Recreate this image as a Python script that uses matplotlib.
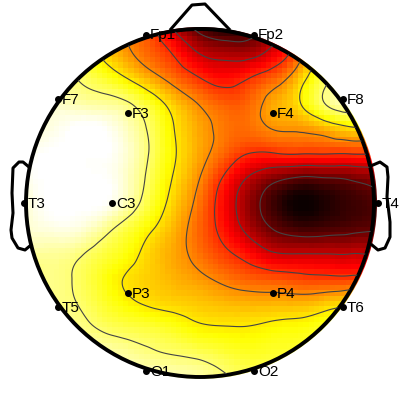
import numpy as np
import matplotlib
matplotlib.use('Agg')
import matplotlib.pyplot as plt
import matplotlib.tri as mtri
from matplotlib.patches import Circle

# electrode names and pixel positions
channels = ['Fp1', 'Fp2', 'F7', 'F3', 'F4', 'F8', 'T3', 'C3', 'T4', 'T5', 'P3', 'P4', 'T6', 'O1', 'O2']
chan_x = [146, 254, 58, 128, 273, 343, 24, 112, 378, 58, 128, 273, 343, 146, 254]
chan_y = [35, 35, 99, 113, 113, 99, 203, 203, 203, 307, 293, 293, 307, 371, 371]

# coarse reading of the potential, 0 = white, 1 = black
grid_x = [25, 50, 75, 100, 125, 150, 175, 200, 225, 250, 275, 300, 325, 350, 375]
grid_y = [28, 53, 78, 103, 128, 153, 178, 203, 228, 253, 278, 303, 328, 353, 378]
values = [
    [.20, .20, .25, .30, .42, .52, .74, .90, .98, .92, .80, .60, .40, .30, .25],
    [.15, .15, .18, .29, .40, .49, .59, .72, .76, .76, .66, .47, .20, .15, .15],
    [.10, .10, .14, .20, .28, .38, .48, .57, .62, .57, .49, .34, .17, .10, .10],
    [.05, .05, .08, .10, .13, .22, .34, .44, .50, .48, .38, .29, .14, .08, .08],
    [.05, .03, .00, .00, .06, .16, .29, .39, .46, .47, .42, .41, .36, .30, .30],
    [.03, .00, .00, .00, .04, .15, .28, .39, .49, .57, .57, .56, .56, .56, .56],
    [.02, .00, .00, .00, .05, .17, .30, .43, .59, .73, .82, .87, .86, .84, .80],
    [.05, .00, .00, .00, .07, .20, .33, .47, .64, .80, .93, 1.0, .97, .93, .90],
    [.05, .03, .03, .09, .18, .27, .37, .49, .62, .76, .87, .92, .91, .89, .87],
    [.10, .10, .12, .18, .24, .32, .39, .47, .55, .63, .71, .72, .72, .72, .72],
    [.15, .12, .15, .22, .29, .33, .37, .41, .46, .50, .52, .54, .55, .55, .55],
    [.12, .12, .14, .20, .26, .30, .32, .34, .36, .37, .37, .37, .34, .30, .28],
    [.10, .10, .11, .15, .18, .20, .23, .27, .28, .28, .26, .25, .22, .20, .20],
    [.08, .08, .08, .08, .10, .13, .15, .17, .20, .22, .21, .20, .16, .12, .12],
    [.05, .05, .05, .05, .05, .05, .06, .08, .13, .16, .15, .12, .08, .08, .08],
]
levels = [.143, .286, .429, .571, .714, .857]

nose_x = [171, 192, 205, 229]
nose_y = [29, 5, 4, 29]
left_ear_x = [29, 23, 19, 13, 12, 13, 11, 12, 18, 25, 31]
left_ear_y = [167, 162, 162, 168, 193, 213, 230, 238, 248, 250, 245]
right_ear_x = [373, 380, 387, 388, 387, 390, 390, 385, 378, 372]
right_ear_y = [165, 162, 167, 177, 197, 222, 237, 248, 250, 245]

fig = plt.figure(figsize=(4, 4), dpi=100)
ax = fig.add_axes([0, 0, 1, 1])
ax.set_xlim(0, 400)
ax.set_ylim(400, 0)
ax.axis('off')

gx, gy = np.meshgrid(grid_x, grid_y)
z = np.array(values)
tri = mtri.Triangulation(gx.ravel(), gy.ravel())
interp = mtri.CubicTriInterpolator(tri, z.ravel(), kind='min_E')

# blocky cells for the field, a finer raster for the contour lines
fx, fy = np.meshgrid(np.arange(25, 376, 5.3), np.arange(28, 378.1, 5.3))
fz = np.clip(interp(fx, fy).filled(0), 0, 1)
lx, ly = np.meshgrid(np.arange(25, 375.1, 1.5), np.arange(28, 378.1, 1.5))
lz = interp(lx, ly).filled(0)

mesh = ax.pcolormesh(fx, fy, fz, cmap='hot_r', vmin=0, vmax=1, shading='nearest')
mesh.set_clip_path(Circle((201, 203), 176, transform=ax.transData))
cs = ax.contour(lx, ly, lz, levels=levels, colors='#444444', linewidths=0.8)
cs.set_clip_path(Circle((200, 203), 173, transform=ax.transData))

ax.add_patch(Circle((200, 203), 174, fill=False, ec='black', lw=2.8))
ax.plot(nose_x, nose_y, color='black', lw=2.2)
ax.plot(left_ear_x, left_ear_y, color='black', lw=2.2)
ax.plot(right_ear_x, right_ear_y, color='black', lw=2.2)

ax.plot(chan_x, chan_y, 'o', color='black', ms=4)
for name, x, y in zip(channels, chan_x, chan_y):
    ax.text(x + 4, y + 0.5, name, fontsize=11, family='Liberation Sans', va='center', ha='left', color='black')

fig.savefig('out.png', dpi=100)
